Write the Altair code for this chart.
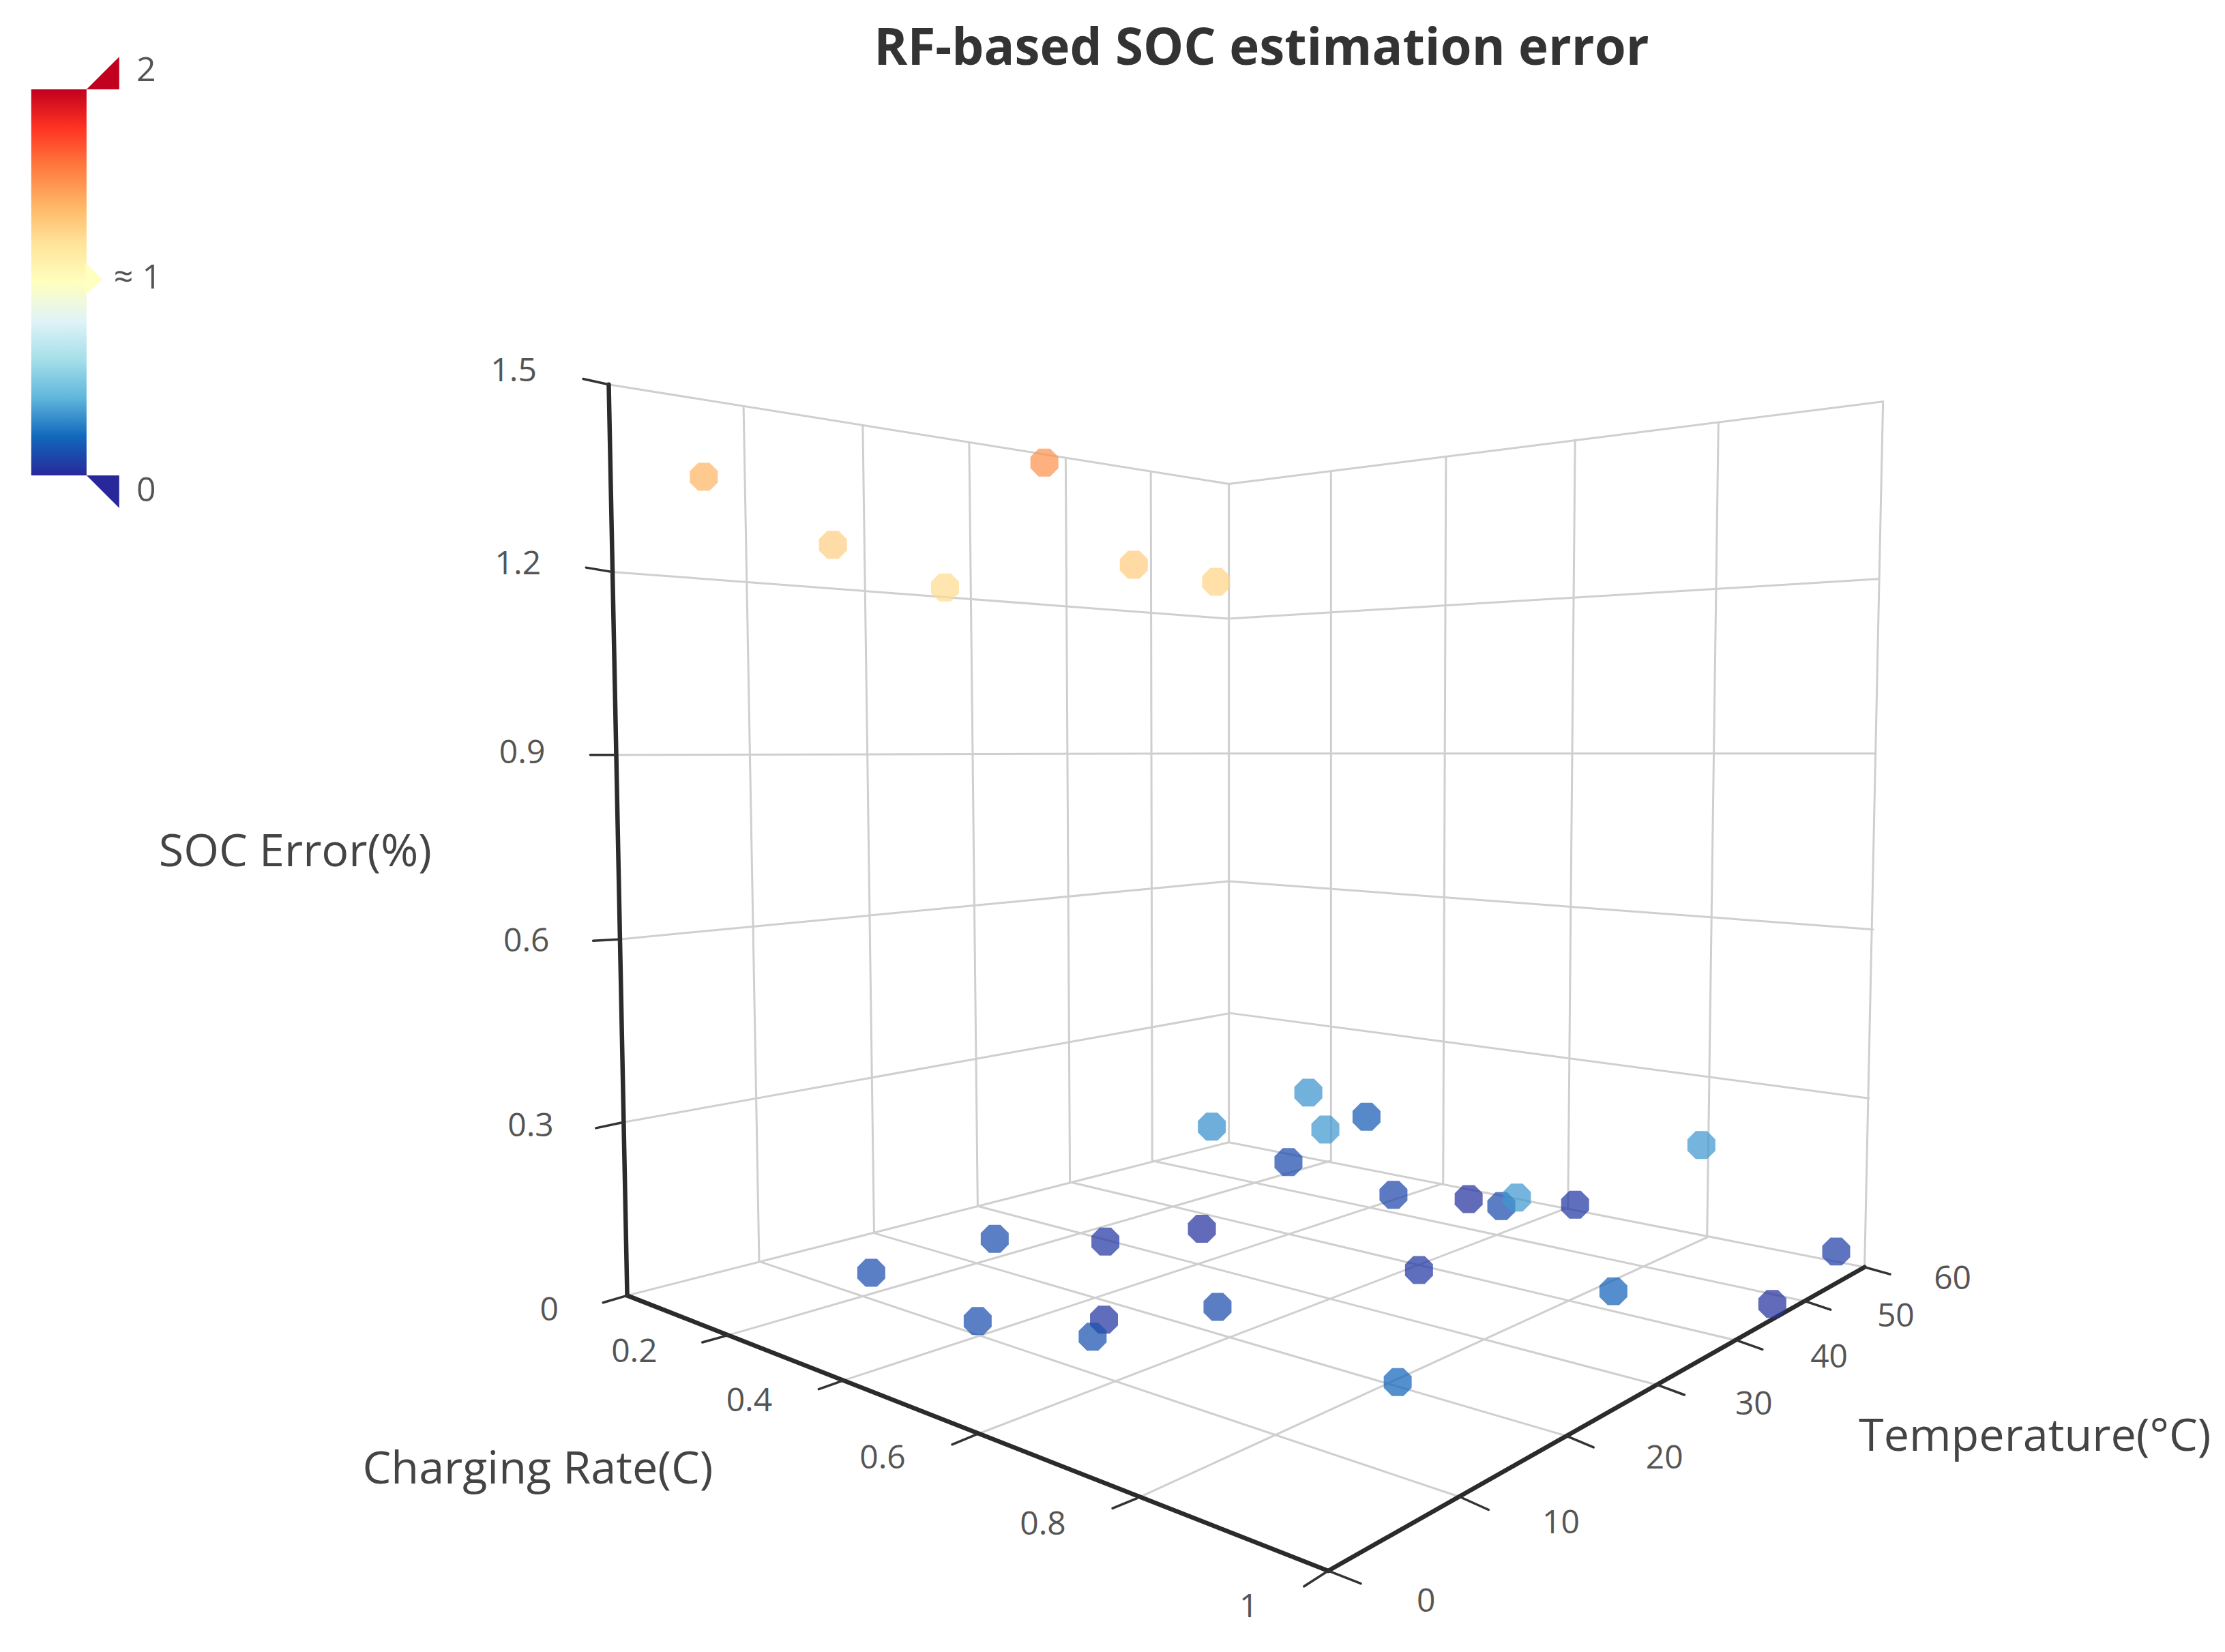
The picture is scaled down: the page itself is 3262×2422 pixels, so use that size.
import altair as alt
import pandas as pd

# All positions below are values read in a 1568-wide reading plane of the projected 3D box
S = 3262 / 1568
W, H = 3246, 2406

# scatter points: projected position and SOC error (%)
pt_u = [496, 587, 666, 736, 799, 857,
        614, 701, 779, 689, 778, 770,
        854, 922, 934, 963, 908, 982, 1035, 1058, 1069, 1110,
        1199, 1294, 1249, 1137, 1000, 847, 858, 985]
pt_v = [336, 384, 414, 326, 398, 410,
        897, 873, 875, 931, 930, 942,
        794, 770, 796, 787, 819, 842, 845, 850, 844, 849,
        807, 882, 919, 910, 895, 866, 921, 974]
pt_err = [1.4, 1.29, 1.24, 1.52, 1.3, 1.27,
          0.12, 0.12, 0.05, 0.12, 0.04, 0.13,
          0.3, 0.31, 0.32, 0.16, 0.11, 0.09, 0.03, 0.11, 0.32, 0.05,
          0.32, 0.07, 0.03, 0.18, 0.05, 0.03, 0.11, 0.19]

# colour scale (value stops and colours sampled from the colour bar)
stops = [0, 0.2, 0.4, 0.6, 0.8, 1.0, 1.2, 1.4, 1.6, 1.8, 2.0]
palette = ["#28289a", "#1168bc", "#5fb6dc", "#a5dfe9", "#e0f3f8", "#ffffbf",
           "#ffe49a", "#ffb565", "#ff7a3e", "#ff3322", "#c2001f"]

# grey box grid, as (u1, v1, u2, v2)
grid_segments = [
    # left wall, horizontal
    (429, 271, 866, 341), (431, 403, 866, 436), (434, 532, 866, 531),
    (436, 662, 866, 621), (439, 791, 867, 714),
    # right wall, horizontal
    (866, 341, 1327, 283), (866, 436, 1324, 408), (866, 531, 1322, 531),
    (866, 621, 1320, 655), (867, 714, 1317, 774),
    # left wall, vertical
    (524, 287, 535, 889), (608, 300, 616, 869), (683, 312, 689, 850),
    (751, 323, 754, 833), (811, 333, 812, 818), (866, 341, 866, 805),
    # right wall, vertical
    (938, 332, 938, 818), (1019, 322, 1017, 834), (1110, 310, 1105, 851),
    (1211, 298, 1203, 872), (1327, 283, 1314, 893),
    # floor edges
    (442, 913, 866, 805), (866, 805, 1314, 893),
    # floor, along temperature
    (513, 941, 938, 818), (594, 973, 1017, 834), (688, 1011, 1105, 851), (801, 1056, 1203, 872),
    # floor, along rate
    (535, 889, 1029, 1055), (616, 869, 1104, 1012), (689, 850, 1168, 976),
    (754, 833, 1225, 945), (812, 818, 1272, 917),
]

# dark axis lines
axis_segments = [(429, 271, 442, 913), (442, 913, 936, 1107), (936, 1107, 1314, 893)]

# tick marks
tick_segments = [
    (411, 267, 429, 271), (413, 400, 431, 403), (416, 532, 434, 532),
    (418, 663, 436, 662), (420, 795, 439, 791), (425, 918, 442, 913),
    (495, 946, 513, 941), (577, 979, 594, 973), (671, 1018, 688, 1011),
    (784, 1063, 801, 1056), (919, 1118, 936, 1107),
    (936, 1107, 959, 1116), (1029, 1055, 1049, 1064), (1104, 1012, 1123, 1020),
    (1168, 976, 1187, 983), (1225, 945, 1242, 951), (1272, 917, 1290, 923),
    (1314, 893, 1332, 898),
]

tick_labels = ["1.5", "1.2", "0.9", "0.6", "0.3", "0",
               "0.2", "0.4", "0.6", "0.8", "1",
               "0", "10", "20", "30", "40", "50", "60"]
tick_u = [362, 365, 368, 371, 374, 387, 447, 528, 622, 735, 880,
          1005, 1100, 1173, 1236, 1289, 1336, 1376]
tick_v = [262, 398, 531, 664, 794, 924, 953, 988, 1028, 1075, 1133,
          1129, 1074, 1028, 990, 957, 928, 902]

name_labels = ["SOC Error(%)", "Charging Rate(C)", "Temperature(°C)"]
name_u = [208, 379, 1434]
name_v = [601, 1036, 1013]

bar_labels = ["2", "≈ 1", "0"]
bar_u = [103, 97, 103]
bar_v = [50, 196, 346]

title_text = "RF-based SOC estimation error"

FONT = "Open Sans"
xs = alt.Scale(domain=[8 / S, (8 + W) / S], nice=False, zero=False)
ys = alt.Scale(domain=[(8 + H) / S, 8 / S], nice=False, zero=False)
X = alt.X("u:Q", scale=xs, axis=None)
Y = alt.Y("v:Q", scale=ys, axis=None)


def seg_df(segs):
    return pd.DataFrame(segs, columns=["u", "v", "u2", "v2"])


def rules(segs, color, width):
    return alt.Chart(seg_df(segs)).mark_rule(color=color, strokeWidth=width, strokeCap="round").encode(
        x=X, y=Y, x2="u2:Q", y2="v2:Q")


def texts(labels, us, vs, size, color, weight="normal"):
    df = pd.DataFrame({"u": us, "v": vs, "t": labels})
    return alt.Chart(df).mark_text(font=FONT, fontSize=size, color=color, fontWeight=weight,
                                   align="center", baseline="middle").encode(x=X, y=Y, text="t:N")


grid = rules(grid_segments, "#cfcfcf", 3)
axes = rules(axis_segments, "#2b2b2b", 6.5)
ticks = rules(tick_segments, "#333333", 3.5)

points = alt.Chart(pd.DataFrame({"u": pt_u, "v": pt_v, "err": pt_err})).mark_point(
    filled=True, opacity=0.72, size=1680, strokeWidth=0,
    shape="M -0.41 -1 L 0.41 -1 L 1 -0.41 L 1 0.41 L 0.41 1 L -0.41 1 L -1 0.41 L -1 -0.41 Z",
).encode(
    x=X, y=Y,
    color=alt.Color("err:Q", legend=None,
                    scale=alt.Scale(domain=stops, range=palette, interpolate="rgb")),
)

# colour bar
bar = alt.Chart(pd.DataFrame({"u": [22], "u2": [61], "v": [335], "v2": [63]})).mark_rect(
    color=alt.Gradient(
        gradient="linear", x1=0, y1=1, x2=0, y2=0,
        stops=[alt.GradientStop(offset=s / 2, color=c) for s, c in zip(stops, palette)],
    )
).encode(x=X, x2="u2:Q", y=Y, y2="v2:Q")


def wedge(us, v1, v2, color):
    df = pd.DataFrame({"u": us, "v": v1, "v2": v2})
    return alt.Chart(df).mark_area(color=color, fill=color, opacity=1, orient="vertical").encode(
        x=X, y=Y, y2="v2:Q")


top_wedge = wedge([61, 84], [63, 63], [63, 40], palette[-1])
bottom_wedge = wedge([61, 84], [335, 335], [335, 358], palette[0])
mid_wedge = wedge([60, 72], [185, 197], [208, 197], palette[5])

chart = alt.layer(
    grid, axes, ticks, points,
    bar, top_wedge, bottom_wedge, mid_wedge,
    texts(tick_labels, tick_u, tick_v, 48, "#555555"),
    texts(name_labels, name_u, name_v, 66.5, "#444444"),
    texts(bar_labels, bar_u, bar_v, 50, "#555555"),
    texts([title_text], [889], [35], 74.5, "#333333", "bold"),
).properties(
    width=W, height=H, padding=0, background="white",
    autosize=alt.AutoSizeParams(type="none"),
).configure_view(stroke=None)

chart.save("out.html", embed_options={"renderer": "svg", "actions": False})
